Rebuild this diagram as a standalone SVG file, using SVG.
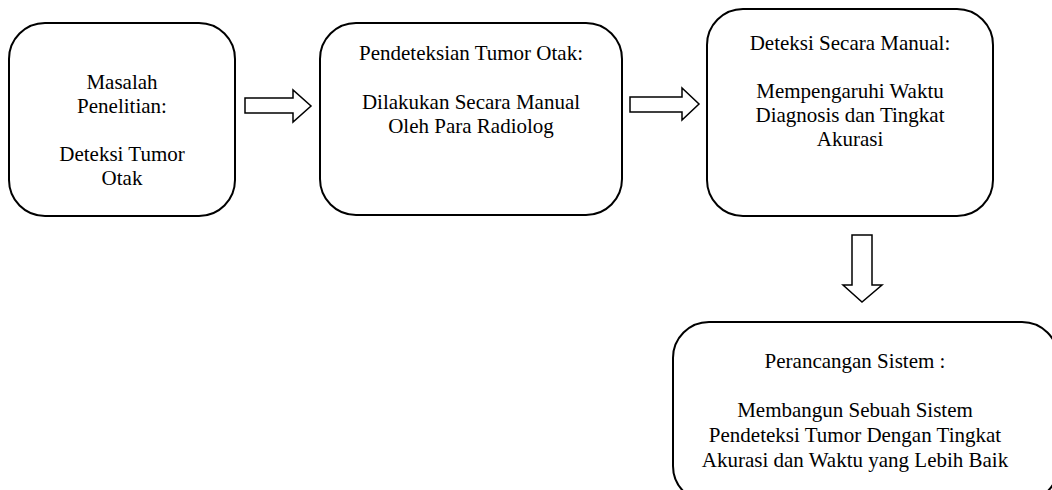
<svg xmlns="http://www.w3.org/2000/svg" width="1052" height="490" viewBox="0 0 1052 490">
<style>
.box{fill:#fff;stroke:#000;stroke-width:2}
.arr{fill:#fff;stroke:#000;stroke-width:1.5;stroke-linejoin:miter}
text{font-family:"Liberation Serif","Times New Roman",serif;font-size:21px;fill:#000;text-anchor:middle}
</style>
<rect width="1052" height="490" fill="#fff"/>
<g id="node1">
<rect class="box" x="9" y="23" width="226" height="193" rx="36"/>
<text x="122" y="89">Masalah</text>
<text x="122" y="113">Penelitian:</text>
<text x="122" y="161">Deteksi Tumor</text>
<text x="122" y="185">Otak</text>
</g>
<g id="node2">
<rect class="box" x="320" y="23" width="302" height="192" rx="36"/>
<text x="471" y="60">Pendeteksian Tumor Otak:</text>
<text x="471" y="109">Dilakukan Secara Manual</text>
<text x="471" y="133">Oleh Para Radiolog</text>
</g>
<g id="node3">
<rect class="box" x="707" y="9" width="286" height="207" rx="36"/>
<text x="850" y="50">Deteksi Secara Manual:</text>
<text x="850" y="98">Mempengaruhi Waktu</text>
<text x="850" y="122">Diagnosis dan Tingkat</text>
<text x="850" y="146">Akurasi</text>
</g>
<g id="node4">
<rect class="box" x="673" y="322" width="385" height="180" rx="36"/>
<text x="855" y="368">Perancangan Sistem :</text>
<text x="855" y="417">Membangun Sebuah Sistem</text>
<text x="855" y="442">Pendeteksi Tumor Dengan Tingkat</text>
<text x="855" y="467">Akurasi dan Waktu yang Lebih Baik</text>
</g>
<g id="connectors">
<polygon class="arr" points="245,98 293,98 293,90 311,106 293,122 293,113 245,113"/>
<polygon class="arr" points="630,97 682,97 682,88 699,104 682,120 682,112 630,112"/>
<polygon class="arr" points="852,235 872,235 872,285 882,285 862,302 843,285 852,285"/>
</g>
</svg>
